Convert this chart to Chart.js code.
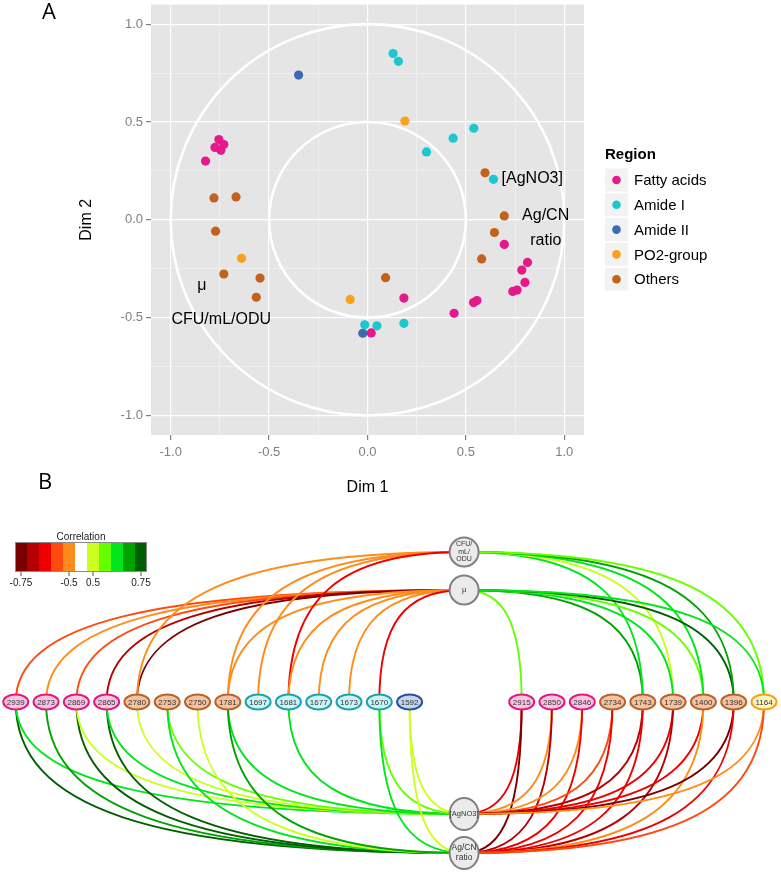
<!DOCTYPE html>
<html>
<head>
<meta charset="utf-8">
<script src="https://cdn.jsdelivr.net/npm/chart.js@4.4.1/dist/chart.umd.min.js"></script>
<style>
  html, body { margin: 0; padding: 0; background: #fff; }
  #pcaChart { position: absolute; left: 0; top: 0; }
  #netChart { position: absolute; left: 0; top: 470px; }
</style>
</head>
<body>
<canvas id="pcaChart" width="781" height="500"></canvas>
<canvas id="netChart" width="781" height="402"></canvas>
<script>
  // ---------- Panel A : correlation circle ----------
  const regions = ['Fatty acids', 'Amide I', 'Amide II', 'PO2-group', 'Others'];
  const regionColors = ['#E6198A', '#1CC7CE', '#3A6BB3', '#F9A11B', '#C1621F'];

  const fattyX = [-0.755, -0.775, -0.745, -0.73, -0.823, 0.695, 0.813, 0.784, 0.80, 0.738, 0.76, 0.556, 0.539, 0.44, 0.185, 0.019];
  const fattyY = [0.41, 0.37, 0.355, 0.385, 0.30, -0.126, -0.218, -0.257, -0.32, -0.366, -0.359, -0.413, -0.423, -0.478, -0.40, -0.578];
  const amide1X = [0.13, 0.157, 0.54, 0.435, 0.30, 0.64, -0.014, 0.048, 0.185];
  const amide1Y = [0.85, 0.81, 0.468, 0.417, 0.347, 0.207, -0.537, -0.542, -0.529];
  const amide2X = [-0.35, -0.024];
  const amide2Y = [0.74, -0.58];
  const po2X = [0.19, -0.64, -0.088];
  const po2Y = [0.505, -0.197, -0.407];
  const othersX = [0.597, -0.78, -0.668, 0.695, 0.645, 0.58, -0.772, -0.73, -0.546, -0.565, 0.092];
  const othersY = [0.24, 0.112, 0.117, 0.02, -0.065, -0.2, -0.058, -0.277, -0.298, -0.396, -0.296];

  const regionX = [fattyX, amide1X, amide2X, po2X, othersX];
  const regionY = [fattyY, amide1Y, amide2Y, po2Y, othersY];

  // supplementary variables shown as text
  const varLabels = ['[AgNO3]', 'Ag/CN', 'ratio', 'μ', 'CFU/mL/ODU'];
  const varX = [0.837, 0.905, 0.906, -0.842, -0.743];
  const varY = [0.209, 0.02, -0.107, -0.337, -0.51];

  const circleRadii = [1, 0.5];
  const gridValues = [-1, -0.75, -0.5, -0.25, 0, 0.25, 0.5, 0.75, 1];

  const isMajor = v => Math.abs(v * 2 - Math.round(v * 2)) < 1e-6;

  const pcaPlugin = {
    id: 'pcaDecor',
    beforeDraw(chart) {
      const { ctx, chartArea: a } = chart;
      ctx.save();
      ctx.fillStyle = '#E5E5E5';
      ctx.fillRect(a.left, a.top, a.right - a.left, a.bottom - a.top);
      ctx.restore();
    },
    beforeDatasetsDraw(chart) {
      const { ctx, chartArea: a, scales: { x, y } } = chart;
      ctx.save();
      ctx.beginPath();
      ctx.rect(a.left, a.top, a.right - a.left, a.bottom - a.top);
      ctx.clip();
      ctx.strokeStyle = '#FFFFFF';
      ctx.lineWidth = 2.6;
      const cx = x.getPixelForValue(0), cy = y.getPixelForValue(0);
      circleRadii.forEach(r => {
        ctx.beginPath();
        ctx.ellipse(cx, cy, x.getPixelForValue(r) - cx, cy - y.getPixelForValue(r), 0, 0, 2 * Math.PI);
        ctx.stroke();
      });
      ctx.restore();
    },
    afterDatasetsDraw(chart) {
      const { ctx, chartArea: a, scales: { x, y } } = chart;
      ctx.save();
      ctx.fillStyle = '#000';
      ctx.textAlign = 'center';
      ctx.textBaseline = 'middle';
      ctx.font = '16px "Liberation Sans"';
      varLabels.forEach((t, i) => {
        ctx.fillText(t, x.getPixelForValue(varX[i]), y.getPixelForValue(varY[i]));
      });

      // axis titles
      ctx.font = '16px "Liberation Sans"';
      ctx.fillText('Dim 1', (a.left + a.right) / 2, a.bottom + 53);
      ctx.save();
      ctx.translate(87, (a.top + a.bottom) / 2);
      ctx.rotate(-Math.PI / 2);
      ctx.fillText('Dim 2', 0, 0);
      ctx.restore();

      // panel letter
      ctx.font = '22px "Open Sans"';
      ctx.fillText('A', 49, 13);

      // legend
      const lx = a.right + 21, ly = 155;
      ctx.textAlign = 'left';
      ctx.font = 'bold 15px "Liberation Sans"';
      ctx.fillText('Region', lx, ly);
      ctx.font = '15px "Liberation Sans"';
      chart.data.datasets.forEach((ds, i) => {
        const cy = ly + 25 + i * 24.8;
        ctx.fillStyle = '#F2F2F2';
        ctx.fillRect(lx, cy - 11.5, 23, 23);
        ctx.fillStyle = ds.backgroundColor;
        ctx.beginPath();
        ctx.arc(lx + 11.5, cy, 4.3, 0, 2 * Math.PI);
        ctx.fill();
        ctx.fillStyle = '#000';
        ctx.fillText(ds.label, lx + 29, cy + 1);
      });
      ctx.restore();
    }
  };

  function axisOptions(isX) {
    return {
      type: 'linear',
      min: -1.1,
      max: 1.1,
      afterBuildTicks: s => { s.ticks = gridValues.map(v => ({ value: v })); },
      afterFit: s => {
        if (isX) { s.height = 30; s.paddingLeft = 0; s.paddingRight = 0; }
        else { s.width = 60; s.paddingTop = 0; s.paddingBottom = 0; }
      },
      border: { display: false },
      grid: {
        color: c => (c.tick && isMajor(c.tick.value)) ? '#FFFFFF' : '#F3F3F3',
        lineWidth: c => (c.tick && isMajor(c.tick.value)) ? 1.2 : 0.6,
        tickColor: c => (c.tick && isMajor(c.tick.value)) ? '#7F7F7F' : 'rgba(0,0,0,0)',
        tickLength: 5
      },
      ticks: {
        autoSkip: false,
        maxRotation: 0,
        padding: isX ? 5 : 3,
        color: '#7F7F7F',
        font: { family: 'Liberation Sans', size: 13 },
        callback: v => isMajor(v) ? v.toFixed(1) : ''
      }
    };
  }

  new Chart(document.getElementById('pcaChart'), {
    type: 'scatter',
    data: {
      datasets: regions.map((name, i) => ({
        label: name,
        data: regionX[i].map((vx, j) => ({ x: vx, y: regionY[i][j] })),
        backgroundColor: regionColors[i],
        borderWidth: 0,
        pointRadius: 4.6
      }))
    },
    options: {
      responsive: false,
      animation: false,
      layout: { padding: { left: 91, right: 197, top: 3, bottom: 35 } },
      plugins: { legend: { display: false }, tooltip: { enabled: false } },
      scales: { x: axisOptions(true), y: axisOptions(false) }
    },
    plugins: [pcaPlugin]
  });

  // ---------- Panel B : correlation network ----------
  const leftNodes = ['2939', '2873', '2869', '2865', '2780', '2753', '2750', '1781', '1697', '1681', '1677', '1673', '1670', '1592'];
  const leftGroups = ['F', 'F', 'F', 'F', 'O', 'O', 'O', 'O', 'A1', 'A1', 'A1', 'A1', 'A1', 'A2'];
  const rightNodes = ['2915', '2850', '2846', '2734', '1743', '1739', '1400', '1396', '1164'];
  const rightGroups = ['F', 'F', 'F', 'O', 'O', 'O', 'O', 'O', 'P'];
  const hubNames = ['CFU/mL/ODU', 'μ', '[AgNO3]', 'Ag/CN ratio'];
  const hubLines = [['CFU/', 'mL/', 'ODU'], ['μ'], ['[AgNO3]'], ['Ag/CN', 'ratio']];
  const hubLevels = [150, 112, -112, -151];

  // edges: wavenumber -> hub index, Pearson correlation
  const edgeFrom = [
    '2939', '2873', '2869', '2865', '2780', '2780', '1781', '1781', '1697', '1681', '1681', '1677', '1673', '1670',
    '2915', '1743', '1743', '1739', '1739', '1400', '1400', '1396', '1396', '1164', '1164',
    '2939', '2939', '2873', '2869', '2869', '2865', '2865', '2780', '2753', '2753', '2750', '1781', '1781', '1681', '1670', '1670', '1592', '1592',
    '2915', '2915', '2850', '2850', '2846', '2846', '2734', '2734', '1743', '1743', '1739', '1739', '1400', '1400', '1396', '1396', '1164', '1164'
  ];
  const edgeHub = [
    1, 1, 1, 1, 1, 0, 0, 1, 0, 0, 1, 1, 1, 1,
    1, 1, 0, 0, 1, 1, 0, 1, 0, 0, 1,
    3, 2, 3, 3, 2, 3, 2, 2, 2, 3, 3, 2, 3, 2, 2, 3, 2, 3,
    2, 3, 2, 3, 2, 3, 2, 3, 2, 3, 2, 3, 2, 3, 2, 3, 2, 3
  ];
  const edgeR = [
    -0.56, -0.5, -0.56, -0.69, -0.75, -0.5, -0.5, -0.5, -0.5, -0.63, -0.5, -0.5, -0.5, -0.63,
    0.56, 0.69, 0.63, 0.5, 0.63, 0.56, 0.63, 0.75, 0.69, 0.56, 0.63,
    0.75, 0.63, 0.69, 0.75, 0.5, 0.75, 0.63, 0.5, 0.56, 0.63, 0.5, 0.63, 0.69, 0.63, 0.56, 0.63, 0.5, 0.5,
    -0.63, -0.75, -0.5, -0.69, -0.5, -0.63, -0.56, -0.63, -0.69, -0.63, -0.63, -0.69, -0.63, -0.5, -0.75, -0.63, -0.5, -0.56
  ];

  // colour key
  const corrSteps = [-0.75, -0.6875, -0.625, -0.5625, -0.5, 0, 0.5, 0.5625, 0.625, 0.6875, 0.75];
  const corrColors = ['#7A0000', '#B40000', '#EE0000', '#FF4A0D', '#FF8C1A', '#FFFFFF', '#CCFF1F', '#66FF00', '#00E61A', '#00A300', '#005F00'];
  const corrTickLabels = ['-0.75', '-0.5', '0.5', '0.75'];
  const corrTickIdx = [0, 4, 6, 10];

  const groupFill = { F: '#F9C6E2', O: '#F5C3A1', A1: '#CDF4F7', A2: '#C4D6EF', P: '#FFF5C2' };
  const groupStroke = { F: '#E01A80', O: '#B5642C', A1: '#1BA3AD', A2: '#25509E', P: '#F4A11A' };

  function corrColor(r) {
    let best = 0;
    corrSteps.forEach((s, k) => { if (Math.abs(r - s) < Math.abs(r - corrSteps[best])) best = k; });
    return corrColors[best];
  }

  const nodeNames = leftNodes.concat(rightNodes, hubNames);
  const nodeX = leftNodes.map((_, i) => i).concat(rightNodes.map((_, j) => 16.7 + j), hubNames.map(() => 14.8));
  const nodeY = leftNodes.map(() => 0).concat(rightNodes.map(() => 0), hubLevels);
  const nodeGroups = leftGroups.concat(rightGroups, hubNames.map(() => 'hub'));

  function nodePixels(chart) {
    const pos = {};
    chart.getDatasetMeta(0).data.forEach((el, i) => { pos[nodeNames[i]] = { x: el.x, y: el.y }; });
    return pos;
  }

  const netPlugin = {
    id: 'network',
    beforeDatasetsDraw(chart) {
      const { ctx } = chart;
      const pos = nodePixels(chart);
      const k = 0.7;
      ctx.save();
      ctx.lineWidth = 1.9;
      edgeFrom.forEach((name, i) => {
        const p = pos[name], h = pos[hubNames[edgeHub[i]]];
        ctx.strokeStyle = corrColor(edgeR[i]);
        ctx.beginPath();
        ctx.moveTo(p.x, p.y);
        ctx.bezierCurveTo(p.x, p.y + k * (h.y - p.y), h.x + k * (p.x - h.x), h.y, h.x, h.y);
        ctx.stroke();
      });
      ctx.restore();
    },
    afterDatasetsDraw(chart) {
      const { ctx } = chart;
      const pos = nodePixels(chart);
      ctx.save();
      ctx.textAlign = 'center';
      ctx.textBaseline = 'middle';
      nodeNames.forEach((name, i) => {
        const p = pos[name];
        ctx.beginPath();
        if (nodeGroups[i] === 'hub') {
          ctx.ellipse(p.x, p.y, 14.5, i >= nodeNames.length - 2 ? 16 : 14.5, 0, 0, 2 * Math.PI);
          ctx.fillStyle = '#EBEBEB';
          ctx.strokeStyle = '#808080';
          ctx.lineWidth = 2;
          ctx.fill();
          ctx.stroke();
          const lines = hubLines[hubNames.indexOf(name)];
          ctx.fillStyle = '#333';
          ctx.font = (lines.length === 2 ? '8.5px' : (lines.length === 3 ? '7px' : '7.5px')) + ' "Liberation Sans"';
          const lh = lines.length === 2 ? 10 : 7.5;
          lines.forEach((t, j) => ctx.fillText(t, p.x, p.y + (j - (lines.length - 1) / 2) * lh));
        } else {
          ctx.ellipse(p.x, p.y, 12.5, 7.5, 0, 0, 2 * Math.PI);
          ctx.fillStyle = groupFill[nodeGroups[i]];
          ctx.strokeStyle = groupStroke[nodeGroups[i]];
          ctx.lineWidth = 2;
          ctx.fill();
          ctx.stroke();
          ctx.fillStyle = '#333';
          ctx.font = '8px "Liberation Sans"';
          ctx.fillText(name, p.x, p.y + 0.5);
        }
      });

      // colour key
      const bx = 15, by = 72, sw = 12, bh = 30;
      corrColors.forEach((c, k) => {
        ctx.fillStyle = c;
        ctx.fillRect(bx + k * sw, by, sw, bh);
      });
      ctx.strokeStyle = '#8A8A8A';
      ctx.lineWidth = 1;
      ctx.strokeRect(bx + 0.5, by + 0.5, corrColors.length * sw - 1, bh - 1);
      ctx.fillStyle = '#222';
      ctx.font = '10px "Liberation Sans"';
      ctx.fillText('Correlation', bx + corrColors.length * sw / 2, by - 5);
      ctx.strokeStyle = '#555';
      corrTickIdx.forEach((k, j) => {
        const tx = bx + k * sw + sw / 2;
        ctx.beginPath();
        ctx.moveTo(tx, by + bh);
        ctx.lineTo(tx, by + bh + 4);
        ctx.stroke();
        ctx.fillText(corrTickLabels[j], tx, by + bh + 11);
      });

      ctx.fillStyle = '#000';
      ctx.font = '22px "Open Sans"';
      ctx.fillText('B', 45, 13);
      ctx.restore();
    }
  };

  new Chart(document.getElementById('netChart'), {
    type: 'scatter',
    data: {
      datasets: [{
        label: 'nodes',
        data: nodeNames.map((_, i) => ({ x: nodeX[i], y: nodeY[i] })),
        pointRadius: 0
      }]
    },
    options: {
      responsive: false,
      animation: false,
      layout: { padding: 0 },
      plugins: { legend: { display: false }, tooltip: { enabled: false } },
      scales: {
        x: { type: 'linear', display: false, min: -0.52, max: 25.26 },
        y: { type: 'linear', display: false, min: -170, max: 232 }
      }
    },
    plugins: [netPlugin]
  });
</script>
</body>
</html>
